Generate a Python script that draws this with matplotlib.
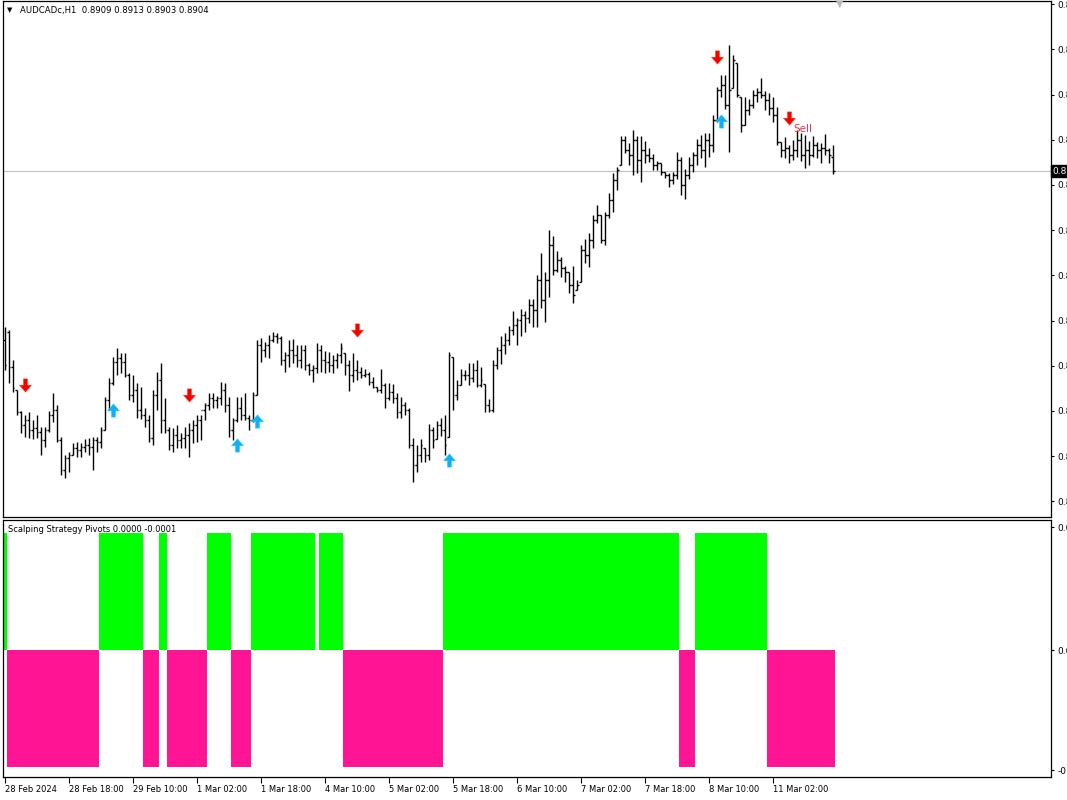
import numpy as np
import matplotlib
matplotlib.use("Agg")
import matplotlib.pyplot as plt
from matplotlib.path import Path
from matplotlib.transforms import blended_transform_factory

symbol = "AUDCADc,H1"

# hourly bars, 28 Feb 2024 02:00 onwards
opens = [0.88457, 0.88485, 0.88364, 0.88285, 0.88209, 0.88164, 0.88181, 0.88147, 0.88153, 0.88140,
         0.88112, 0.88147, 0.88199, 0.88216, 0.88112, 0.88009, 0.88050, 0.88061, 0.88084, 0.88078,
         0.88088, 0.88095, 0.88088, 0.88112, 0.88105, 0.88147, 0.88250, 0.88309, 0.88381, 0.88395,
         0.88381, 0.88337, 0.88268, 0.88285, 0.88216, 0.88199, 0.88181, 0.88119, 0.88268, 0.88319,
         0.88181, 0.88147, 0.88095, 0.88130, 0.88112, 0.88119, 0.88130, 0.88147, 0.88164, 0.88181,
         0.88216, 0.88233, 0.88257, 0.88250, 0.88257, 0.88285, 0.88233, 0.88147, 0.88181, 0.88222,
         0.88199, 0.88188, 0.88181, 0.88268, 0.88440, 0.88423, 0.88440, 0.88457, 0.88471, 0.88464,
         0.88388, 0.88406, 0.88423, 0.88406, 0.88388, 0.88423, 0.88371, 0.88354, 0.88360, 0.88423,
         0.88388, 0.88381, 0.88371, 0.88388, 0.88406, 0.88413, 0.88371, 0.88337, 0.88354, 0.88347,
         0.88337, 0.88340, 0.88312, 0.88295, 0.88285, 0.88302, 0.88257, 0.88278, 0.88257, 0.88209,
         0.88233, 0.88216, 0.88095, 0.88026, 0.88061, 0.88084, 0.88061, 0.88147, 0.88116, 0.88164,
         0.88147, 0.88123, 0.88399, 0.88268, 0.88302, 0.88337, 0.88337, 0.88326, 0.88354, 0.88302,
         0.88305, 0.88233, 0.88216, 0.88371, 0.88423, 0.88440, 0.88457, 0.88492, 0.88509, 0.88526,
         0.88544, 0.88533, 0.88578, 0.88561, 0.88664, 0.88595, 0.88664, 0.88785, 0.88699, 0.88733,
         0.88705, 0.88692, 0.88647, 0.88630, 0.88657, 0.88768, 0.88751, 0.88802, 0.88871, 0.88889,
         0.88802, 0.88889, 0.88940, 0.89009, 0.89061, 0.89147, 0.89113, 0.89096, 0.89147, 0.89078,
         0.89113, 0.89096, 0.89085, 0.89061, 0.89068, 0.89037, 0.89027, 0.89009, 0.89027, 0.89078,
         0.88992, 0.89027, 0.89061, 0.89096, 0.89130, 0.89113, 0.89147, 0.89130, 0.89216, 0.89320,
         0.89337, 0.89268, 0.89326, 0.89413, 0.89296, 0.89199, 0.89251, 0.89268, 0.89303, 0.89313,
         0.89303, 0.89285, 0.89257, 0.89234, 0.89140, 0.89113, 0.89119, 0.89096, 0.89113, 0.89147,
         0.89096, 0.89113, 0.89096, 0.89130, 0.89113, 0.89119, 0.89113, 0.89090]
highs = [0.88502, 0.88492, 0.88388, 0.88285, 0.88213, 0.88199, 0.88209, 0.88181, 0.88199, 0.88157,
         0.88157, 0.88213, 0.88275, 0.88233, 0.88123, 0.88061, 0.88071, 0.88102, 0.88105, 0.88102,
         0.88116, 0.88119, 0.88123, 0.88123, 0.88157, 0.88261, 0.88326, 0.88399, 0.88429, 0.88413,
         0.88413, 0.88344, 0.88337, 0.88309, 0.88295, 0.88222, 0.88199, 0.88285, 0.88347, 0.88378,
         0.88257, 0.88157, 0.88153, 0.88164, 0.88137, 0.88157, 0.88171, 0.88181, 0.88199, 0.88199,
         0.88240, 0.88275, 0.88275, 0.88264, 0.88312, 0.88309, 0.88261, 0.88188, 0.88261, 0.88261,
         0.88275, 0.88199, 0.88278, 0.88457, 0.88464, 0.88450, 0.88475, 0.88485, 0.88482, 0.88471,
         0.88416, 0.88457, 0.88461, 0.88440, 0.88440, 0.88440, 0.88378, 0.88371, 0.88447, 0.88440,
         0.88420, 0.88416, 0.88406, 0.88413, 0.88447, 0.88413, 0.88388, 0.88413, 0.88388, 0.88364,
         0.88357, 0.88347, 0.88330, 0.88295, 0.88357, 0.88309, 0.88309, 0.88305, 0.88275, 0.88261,
         0.88243, 0.88222, 0.88119, 0.88095, 0.88116, 0.88084, 0.88167, 0.88157, 0.88178, 0.88188,
         0.88199, 0.88416, 0.88399, 0.88319, 0.88357, 0.88354, 0.88378, 0.88378, 0.88388, 0.88364,
         0.88305, 0.88254, 0.88388, 0.88433, 0.88471, 0.88482, 0.88505, 0.88558, 0.88533, 0.88564,
         0.88558, 0.88599, 0.88599, 0.88682, 0.88758, 0.88692, 0.88837, 0.88816, 0.88765, 0.88744,
         0.88712, 0.88692, 0.88712, 0.88664, 0.88785, 0.88806, 0.88827, 0.88889, 0.88923, 0.88889,
         0.88899, 0.88965, 0.89034, 0.89054, 0.89161, 0.89161, 0.89137, 0.89182, 0.89161, 0.89161,
         0.89144, 0.89119, 0.89099, 0.89075, 0.89068, 0.89037, 0.89034, 0.89037, 0.89106, 0.89089,
         0.89047, 0.89089, 0.89106, 0.89151, 0.89165, 0.89172, 0.89172, 0.89234, 0.89330, 0.89372,
         0.89372, 0.89475, 0.89441, 0.89413, 0.89296, 0.89296, 0.89289, 0.89320, 0.89326, 0.89361,
         0.89317, 0.89310, 0.89296, 0.89261, 0.89140, 0.89158, 0.89130, 0.89147, 0.89182, 0.89172,
         0.89165, 0.89144, 0.89161, 0.89140, 0.89137, 0.89168, 0.89119, 0.89130]
lows = [0.88354, 0.88309, 0.88278, 0.88199, 0.88137, 0.88123, 0.88119, 0.88116, 0.88119, 0.88061,
        0.88088, 0.88140, 0.88174, 0.88105, 0.87992, 0.87981, 0.88002, 0.88061, 0.88054, 0.88054,
        0.88071, 0.88061, 0.88009, 0.88071, 0.88084, 0.88147, 0.88216, 0.88302, 0.88337, 0.88344,
        0.88330, 0.88250, 0.88243, 0.88188, 0.88185, 0.88157, 0.88105, 0.88095, 0.88216, 0.88137,
        0.88137, 0.88078, 0.88071, 0.88084, 0.88084, 0.88084, 0.88054, 0.88102, 0.88105, 0.88112,
        0.88181, 0.88216, 0.88222, 0.88222, 0.88233, 0.88209, 0.88123, 0.88112, 0.88174, 0.88181,
        0.88181, 0.88147, 0.88174, 0.88268, 0.88381, 0.88399, 0.88395, 0.88450, 0.88447, 0.88371,
        0.88347, 0.88364, 0.88378, 0.88364, 0.88360, 0.88354, 0.88337, 0.88312, 0.88344, 0.88347,
        0.88344, 0.88347, 0.88344, 0.88360, 0.88378, 0.88337, 0.88282, 0.88312, 0.88319, 0.88326,
        0.88330, 0.88302, 0.88291, 0.88278, 0.88275, 0.88222, 0.88250, 0.88240, 0.88188, 0.88188,
        0.88199, 0.88084, 0.87967, 0.88002, 0.88036, 0.88036, 0.88043, 0.88084, 0.88116, 0.88126,
        0.88061, 0.88123, 0.88216, 0.88250, 0.88302, 0.88319, 0.88302, 0.88312, 0.88295, 0.88295,
        0.88209, 0.88209, 0.88209, 0.88357, 0.88374, 0.88409, 0.88440, 0.88475, 0.88440, 0.88471,
        0.88485, 0.88516, 0.88502, 0.88502, 0.88567, 0.88519, 0.88606, 0.88682, 0.88692, 0.88675,
        0.88657, 0.88620, 0.88585, 0.88630, 0.88657, 0.88723, 0.88709, 0.88774, 0.88861, 0.88792,
        0.88785, 0.88878, 0.88899, 0.88975, 0.89061, 0.89103, 0.89061, 0.89027, 0.89034, 0.89002,
        0.89068, 0.89071, 0.89044, 0.89044, 0.89027, 0.89016, 0.88985, 0.88995, 0.89013, 0.88958,
        0.88944, 0.89013, 0.89037, 0.89061, 0.89085, 0.89054, 0.89089, 0.89106, 0.89209, 0.89296,
        0.89254, 0.89106, 0.89326, 0.89296, 0.89175, 0.89199, 0.89234, 0.89257, 0.89278, 0.89292,
        0.89251, 0.89234, 0.89209, 0.89130, 0.89089, 0.89085, 0.89068, 0.89078, 0.89089, 0.89075,
        0.89050, 0.89061, 0.89089, 0.89085, 0.89068, 0.89096, 0.89068, 0.89030]
closes = [0.88371, 0.88364, 0.88291, 0.88209, 0.88164, 0.88181, 0.88147, 0.88153, 0.88140, 0.88112,
          0.88147, 0.88199, 0.88216, 0.88112, 0.88009, 0.88050, 0.88061, 0.88084, 0.88078, 0.88088,
          0.88095, 0.88088, 0.88112, 0.88105, 0.88147, 0.88250, 0.88309, 0.88381, 0.88395, 0.88381,
          0.88337, 0.88268, 0.88285, 0.88216, 0.88199, 0.88181, 0.88119, 0.88268, 0.88319, 0.88181,
          0.88147, 0.88095, 0.88130, 0.88112, 0.88119, 0.88130, 0.88147, 0.88164, 0.88181, 0.88216,
          0.88233, 0.88257, 0.88250, 0.88257, 0.88285, 0.88233, 0.88147, 0.88181, 0.88222, 0.88199,
          0.88188, 0.88181, 0.88268, 0.88440, 0.88423, 0.88440, 0.88457, 0.88471, 0.88464, 0.88388,
          0.88406, 0.88423, 0.88406, 0.88388, 0.88423, 0.88371, 0.88354, 0.88360, 0.88423, 0.88388,
          0.88381, 0.88371, 0.88388, 0.88406, 0.88429, 0.88371, 0.88337, 0.88354, 0.88347, 0.88337,
          0.88340, 0.88312, 0.88295, 0.88285, 0.88302, 0.88257, 0.88278, 0.88257, 0.88209, 0.88233,
          0.88216, 0.88095, 0.88026, 0.88061, 0.88095, 0.88061, 0.88147, 0.88112, 0.88164, 0.88147,
          0.88095, 0.88406, 0.88268, 0.88302, 0.88337, 0.88337, 0.88326, 0.88354, 0.88302, 0.88319,
          0.88233, 0.88216, 0.88371, 0.88423, 0.88440, 0.88457, 0.88492, 0.88509, 0.88526, 0.88544,
          0.88533, 0.88578, 0.88561, 0.88664, 0.88595, 0.88664, 0.88785, 0.88699, 0.88733, 0.88705,
          0.88692, 0.88647, 0.88613, 0.88647, 0.88768, 0.88751, 0.88802, 0.88871, 0.88889, 0.88802,
          0.88889, 0.88940, 0.89009, 0.89044, 0.89147, 0.89113, 0.89096, 0.89147, 0.89078, 0.89113,
          0.89096, 0.89085, 0.89061, 0.89068, 0.89037, 0.89027, 0.89009, 0.89027, 0.89078, 0.88992,
          0.89027, 0.89061, 0.89096, 0.89130, 0.89113, 0.89147, 0.89130, 0.89216, 0.89320, 0.89337,
          0.89268, 0.89320, 0.89423, 0.89303, 0.89199, 0.89251, 0.89268, 0.89303, 0.89313, 0.89303,
          0.89285, 0.89257, 0.89234, 0.89140, 0.89113, 0.89119, 0.89096, 0.89113, 0.89147, 0.89096,
          0.89113, 0.89096, 0.89130, 0.89113, 0.89119, 0.89113, 0.89096, 0.89040]

date_labels = ["28 Feb 2024", "28 Feb 18:00", "29 Feb 10:00", "1 Mar 02:00", "1 Mar 18:00",
               "4 Mar 10:00", "5 Mar 02:00", "5 Mar 18:00", "6 Mar 10:00", "7 Mar 02:00",
               "7 Mar 18:00", "8 Mar 10:00", "11 Mar 02:00"]

# signal arrows (bar index, price)
sell_bars = [5, 46, 88, 178, 196]
sell_prices = [0.88302, 0.88267, 0.88492, 0.89433, 0.89223]
buy_bars = [27, 58, 63, 111, 179]
buy_prices = [0.88216, 0.88095, 0.88178, 0.88043, 0.89213]
sell_text_bar = 197
sell_text_price = 0.89185

# Scalping Strategy Pivots histogram: (sign, number of bars)
pivot_runs = [(1, 1), (-1, 23), (1, 11), (-1, 4), (1, 2), (-1, 10), (1, 6), (-1, 5),
              (1, 16), (0, 1), (1, 6), (-1, 25), (1, 59), (-1, 4), (1, 18), (-1, 17)]
pivot_level = 0.0001

W, H = 1067, 800
fig = plt.figure(figsize=(W / 100, H / 100), dpi=100)
ax = fig.add_axes([3 / W, 1 - 517 / H, 1048 / W, 516 / H])
ax2 = fig.add_axes([3 / W, 1 - 777 / H, 1048 / W, 257 / H])

x = np.arange(len(closes))
ax.vlines(x, lows, highs, color="black", lw=1.0)
ax.hlines(opens, x - 0.4, x, color="black", lw=1.0)
ax.hlines(closes, x, x + 0.4, color="black", lw=1.0)

# current price line + label
ax.axhline(closes[-1], color="#c0c0c0", lw=0.8, zorder=0)
tr = blended_transform_factory(ax.transAxes, ax.transData)
ax.text(1.0015, closes[-1], f"{closes[-1]:.4f}", transform=tr, color="white", fontsize=6.5,
        va="center", ha="left", bbox=dict(facecolor="black", edgecolor="black", pad=0.8), clip_on=False)

down = Path([(-0.3, 1), (0.3, 1), (0.3, 0.05), (0.9, 0.05), (0, -1), (-0.9, 0.05), (-0.3, 0.05), (-0.3, 1)],
            closed=True)
up = Path([(vx, -vy) for vx, vy in down.vertices], closed=True)
ax.plot(sell_bars, sell_prices, ls="none", marker=down, ms=9.5, mfc="#f50000", mec="#ff4010", mew=0.4, zorder=5)
ax.plot(buy_bars, buy_prices, ls="none", marker=up, ms=9.5, mfc="#10b0f5", mec="#30c8ff", mew=0.4, zorder=5)
ax.text(sell_text_bar, sell_text_price, "Sell", color="#f0324b", fontsize=7.5, va="center", ha="left", zorder=6)

ax.set_xlim(-0.45, 261.5)
ax.set_ylim(0.87846, 0.89627)
ax.set_xticks([])
price_ticks = 0.89616 - 0.00156 * np.arange(12)
ax.yaxis.tick_right()
ax.set_yticks(price_ticks)
ax.set_yticklabels([f"{v:.5f}" for v in price_ticks])
ax.tick_params(axis="y", direction="out", length=2.5, width=0.8, pad=2, labelsize=6.5, colors="black")

# indicator window
pivots = np.repeat([r[0] for r in pivot_runs], [r[1] for r in pivot_runs]) * pivot_level
cols = ["#00ff00" if v > 0 else "#ff1493" for v in pivots]
ax2.bar(x, pivots, width=1.0, color=cols, linewidth=0)
ax2.set_xlim(-0.45, 261.5)
ax2.set_ylim(-0.0001086, 0.0001112)
ax2.yaxis.tick_right()
sub_ticks = [0.000105, 0.0, -0.000103]
ax2.set_yticks(sub_ticks)
ax2.set_yticklabels([f"{v:.6f}" for v in sub_ticks])
ax2.tick_params(axis="y", direction="out", length=2.5, width=0.8, pad=2, labelsize=6.5)
ax2.set_xticks(np.arange(len(date_labels)) * 16)
ax2.set_xticklabels(date_labels, ha="left")
ax2.tick_params(axis="x", direction="out", length=4, width=0.8, pad=1.5, labelsize=6.0)

for a in (ax, ax2):
    for s in a.spines.values():
        s.set_linewidth(0.9)
        s.set_color("black")

up_last = max(pivots[-1], 0.0)
dn_last = min(pivots[-1], 0.0)
fig.text(8 / W, 1 - 529 / H, f"Scalping Strategy Pivots {up_last:.4f} {dn_last:.4f}", fontsize=6.0, va="center")
fig.text(10 / W, 1 - 10 / H, "\u25bc", fontsize=5, ha="center", va="center")
fig.text(20 / W, 1 - 10 / H, f"{symbol}  {opens[-1]:.4f} {highs[-1]:.4f} {lows[-1]:.4f} {closes[-1]:.4f}",
         fontsize=6.1, va="center")
fig.text(840 / W, 1 - 4 / H, "\u25bc", fontsize=7, color="#b8b8b8", ha="center", va="center")

fig.savefig("out.png", dpi=100)
